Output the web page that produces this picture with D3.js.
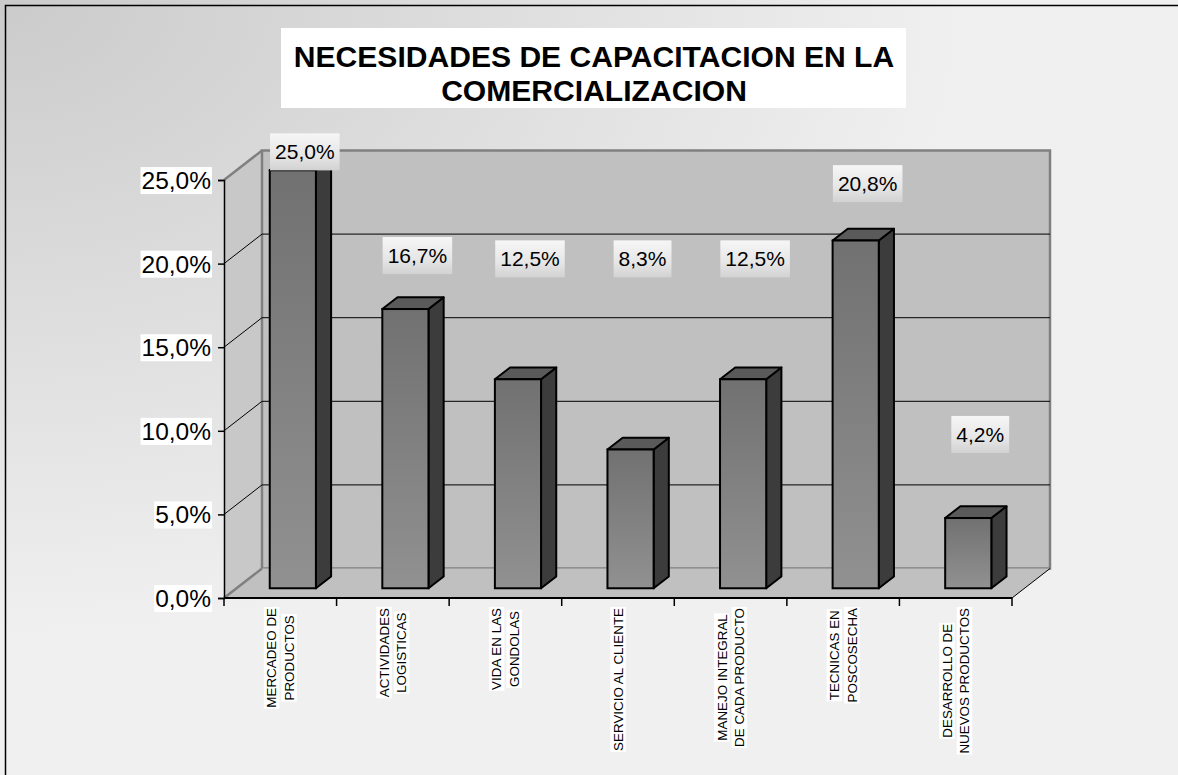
<!DOCTYPE html>
<html>
<head>
<meta charset="utf-8">
<script src="https://cdn.jsdelivr.net/npm/d3@7"></script>
<style>
	body { margin: 0; background: #f0f0f0; }
	svg { display: block; font-family: Arial, "Liberation Sans", sans-serif; }
</style>
</head>
<body>
<script>

//chart data
var categories = [
	["MERCADEO DE", "PRODUCTOS"],
	["ACTIVIDADES", "LOGISTICAS"],
	["VIDA EN LAS", "GONDOLAS"],
	["SERVICIO AL CLIENTE"],
	["MANEJO INTEGRAL", "DE CADA PRODUCTO"],
	["TECNICAS EN", "POSCOSECHA"],
	["DESARROLLO DE", "NUEVOS PRODUCTOS"]
];
var values = [0.250, 0.167, 0.125, 0.083, 0.125, 0.208, 0.042];
var yTicks = [0, 0.05, 0.10, 0.15, 0.20, 0.25];
//value level where each data label was left sitting in the original
var labelLevels = [0.261, 0.199, 0.197, 0.197, 0.197, 0.242, 0.092];
var title = ["NECESIDADES DE CAPACITACION EN LA", "COMERCIALIZACION"];

var w = 1178,
	h = 775,
	depth_x = 38,   //how far the back wall sits right of the front plane
	depth_y = 29.5, //and how far up
	bar_front = 0.33,
	bar_back = 0.73;

var es = d3.formatLocale({decimal: ",", thousands: ".", grouping: [3], currency: ["", ""]});
var pct = es.format(".1%");

var keys = categories.map(function(c){ return c.join(" "); });

var x = d3.scaleBand()
	.domain(keys)
	.range([224, 1012])
	.padding(0);

var y = d3.scaleLinear()
	.domain([0, 0.25])
	.range([598, 180]);

//point on the front plane pushed back to depth d (0 = front, 1 = back wall)
var proj = function(px, v, d){
	return [px + d*depth_x, y(v) - d*depth_y];
};
var poly = function(pts){
	return "M" + pts.map(function(p){ return p[0] + "," + p[1]; }).join("L") + "Z";
};

var svg = d3.select("body").append("svg")
	.attr("width", w)
	.attr("height", h);

var defs = svg.append("defs");

var bg = defs.append("radialGradient")
	.attr("id", "bg")
	.attr("cx", 0).attr("cy", 0).attr("r", 1);
bg.append("stop").attr("offset", 0).attr("stop-color", "#cbcbcb");
bg.append("stop").attr("offset", 0.82).attr("stop-color", "#f0f0f0");

var face = defs.append("linearGradient")
	.attr("id", "face")
	.attr("x1", 0).attr("y1", 0).attr("x2", 0).attr("y2", 1);
face.append("stop").attr("offset", 0).attr("stop-color", "#717171");
face.append("stop").attr("offset", 1).attr("stop-color", "#919191");

var lab = defs.append("linearGradient")
	.attr("id", "lab")
	.attr("x1", 0).attr("y1", 0).attr("x2", 0).attr("y2", 1);
lab.append("stop").attr("offset", 0).attr("stop-color", "#f6f6f6");
lab.append("stop").attr("offset", 0.6).attr("stop-color", "#e6e6e6");
lab.append("stop").attr("offset", 1).attr("stop-color", "#d2d2d2");

//background and frame
svg.append("rect")
	.attr("width", w)
	.attr("height", h)
	.attr("fill", "url(#bg)");

svg.append("rect")
	.attr("x", 5.5).attr("y", 5.5)
	.attr("width", w + 20).attr("height", h + 20)
	.attr("fill", "none")
	.attr("stroke", "black")
	.attr("stroke-width", 1.5);

//title
svg.append("rect")
	.attr("x", 281).attr("y", 28)
	.attr("width", 625).attr("height", 80)
	.attr("fill", "white");

title.forEach(function(t, i){
	svg.append("text")
		.attr("transform", "translate(594," + (67 + i*33.5) + ") scale(1.02,1)")
		.attr("text-anchor", "middle")
		.style("font-size", "29.5px")
		.style("font-weight", "bold")
		.text(t);
});

//walls and floor
var x0 = x.range()[0], x1 = x.range()[1];

svg.append("path")
	.attr("d", poly([proj(x0, 0, 0), proj(x0, 0.25, 0), proj(x0, 0.25, 1), proj(x0, 0, 1)]))
	.attr("fill", "#c8c8c8");

svg.append("path")
	.attr("d", poly([proj(x0, 0, 1), proj(x0, 0.25, 1), proj(x1, 0.25, 1), proj(x1, 0, 1)]))
	.attr("fill", "#c0c0c0")
	.attr("stroke", "#808080")
	.attr("stroke-width", 2.5);

svg.append("path")
	.attr("d", poly([proj(x0, 0, 0), proj(x1, 0, 0), proj(x1, 0, 1), proj(x0, 0, 1)]))
	.attr("fill", "#c0c0c0");

//gray edges of the walls
svg.append("path")
	.attr("d", "M" + proj(x0, 0.25, 0) + "L" + proj(x0, 0.25, 1) + "M" + proj(x0, 0, 0) + "L" + proj(x0, 0, 1))
	.attr("fill", "none")
	.attr("stroke", "#808080")
	.attr("stroke-width", 2.5);

svg.append("path")
	.attr("d", "M" + proj(x1, 0, 0) + "L" + proj(x1, 0, 1))
	.attr("stroke", "black")
	.attr("stroke-width", 1);

//gridlines across side and back wall
svg.selectAll(".grid")
	.data(yTicks.filter(function(t){ return t > 0 && t < 0.25; }))
	.enter().append("path")
	.attr("class", "grid")
	.attr("d", function(t){
		return "M" + proj(x0, t, 0) + "L" + proj(x0, t, 1) + "L" + proj(x1, t, 1);
	})
	.attr("fill", "none")
	.attr("stroke", "black")
	.attr("stroke-width", 1);

//axes
var yAxis = svg.append("g")
	.attr("transform", "translate(" + x0 + ",0)")
	.call(d3.axisLeft(y).tickValues(yTicks).tickSize(6).tickFormat(pct));
yAxis.select(".domain").attr("stroke-width", 1.5);
yAxis.selectAll(".tick line").attr("stroke-width", 1.5);
yAxis.selectAll(".tick text")
	.attr("x", -13)
	.attr("dy", "0.35em")
	.style("font-size", "24.5px")
	.style("font-family", "Arial, 'Liberation Sans', sans-serif");
yAxis.selectAll(".tick").each(function(){
	var t = d3.select(this).select("text");
	var bb = t.node().getBBox();
	d3.select(this).insert("rect", "text")
		.attr("x", bb.x - 1).attr("y", bb.y)
		.attr("width", bb.width + 2).attr("height", bb.height)
		.attr("fill", "white");
});

svg.append("line")
	.attr("x1", x0).attr("x2", x1)
	.attr("y1", y(0)).attr("y2", y(0))
	.attr("stroke", "black")
	.attr("stroke-width", 2);

var xTicks = keys.map(function(k){ return x(k); }).concat([x1]);
svg.selectAll(".xtick")
	.data(xTicks)
	.enter().append("line")
	.attr("class", "xtick")
	.attr("x1", function(d){ return d; })
	.attr("x2", function(d){ return d; })
	.attr("y1", y(0))
	.attr("y2", y(0) + 8)
	.attr("stroke", "black")
	.attr("stroke-width", 1.5);

//bars
var bw = x.bandwidth() * 0.41;

var bars = svg.selectAll(".bar")
	.data(values)
	.enter().append("g")
	.attr("class", "bar");

bars.each(function(v, i){
	var g = d3.select(this);
	var left = x(keys[i]) + x.bandwidth()/2 - bw/2;
	var right = left + bw;

	g.append("path")
		.attr("d", poly([proj(right, v, bar_front), proj(right, v, bar_back), proj(right, 0, bar_back), proj(right, 0, bar_front)]))
		.attr("fill", "#3c3c3c")
		.attr("stroke", "black")
		.attr("stroke-width", 2)
		.attr("stroke-linejoin", "round");

	g.append("path")
		.attr("d", poly([proj(left, v, bar_front), proj(right, v, bar_front), proj(right, v, bar_back), proj(left, v, bar_back)]))
		.attr("fill", "#5a5a5a")
		.attr("stroke", "black")
		.attr("stroke-width", 2)
		.attr("stroke-linejoin", "round");

	var tl = proj(left, v, bar_front);
	var br = proj(right, 0, bar_front);
	g.append("rect")
		.attr("x", tl[0]).attr("y", tl[1])
		.attr("width", br[0] - tl[0])
		.attr("height", br[1] - tl[1])
		.attr("fill", "url(#face)")
		.attr("stroke", "black")
		.attr("stroke-width", 2);
});

//data labels
var labels = svg.selectAll(".vlabel")
	.data(values)
	.enter().append("g")
	.attr("class", "vlabel")
	.attr("transform", function(v, i){
		var p = proj(x(keys[i]) + x.bandwidth()/2, labelLevels[i], bar_front);
		return "translate(" + (p[0] + 12) + "," + p[1] + ")";
	});

labels.append("text")
	.attr("text-anchor", "middle")
	.attr("dy", "0.36em")
	.style("font-size", "21px")
	.text(function(v){ return pct(v); });

labels.each(function(){
	var g = d3.select(this);
	var tw = g.select("text").node().getComputedTextLength();
	g.insert("rect", "text")
		.attr("x", -tw/2 - 5).attr("y", -18.5)
		.attr("width", tw + 10).attr("height", 37)
		.attr("fill", "url(#lab)");
});

//category labels, rotated, top aligned under the axis
var xl = svg.selectAll(".xlabel")
	.data(categories)
	.enter().append("g")
	.attr("class", "xlabel")
	.attr("transform", function(c, i){
		return "translate(" + (x(keys[i]) + x.bandwidth()/2) + ",608) rotate(-90)";
	});

xl.each(function(lines){
	var g = d3.select(this);
	var texts = lines.map(function(l, j){
		return g.append("text")
			.attr("text-anchor", "middle")
			.attr("y", (j - (lines.length - 1)/2) * 17.5)
			.attr("dy", "0.35em")
			.style("font-size", "13.4px")
			.text(l);
	});
	var maxLen = d3.max(texts, function(t){ return t.node().getComputedTextLength(); });
	texts.forEach(function(t, j){
		var tw = t.node().getComputedTextLength();
		var ly = (j - (lines.length - 1)/2) * 17.5;
		t.attr("x", -maxLen/2);
		g.insert("rect", "text")
			.attr("x", -maxLen/2 - tw/2 - 1)
			.attr("y", ly - 7.75)
			.attr("width", tw + 2)
			.attr("height", 15.5)
			.attr("fill", "white");
	});
});

</script>
</body>
</html>
